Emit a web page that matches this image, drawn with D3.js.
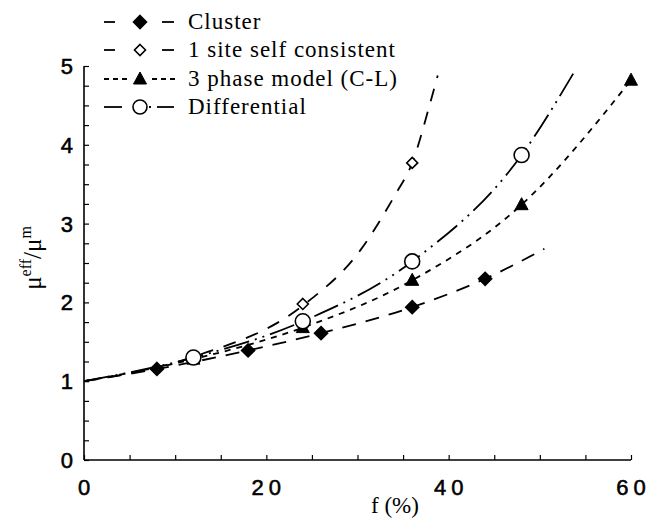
<!DOCTYPE html>
<html><head><meta charset="utf-8">
<script src="https://cdn.jsdelivr.net/npm/d3@7"></script>
<style>
body{margin:0;background:#fff;}
svg{display:block;}
</style></head>
<body>
<script>
// ---- data ----
const seriesNames = ["Cluster", "1 site self consistent", "3 phase model (C-L)", "Differential"];
const clusterF = [8, 18, 26, 36, 44];
const clusterV = [1.155, 1.39, 1.61, 1.94, 2.30];
const siteF = [12, 24, 36];
const siteV = [1.31, 1.98, 3.77];
const phaseF = [12, 24, 36, 48, 60];
const phaseV = [1.28, 1.68, 2.28, 3.24, 4.82];
const diffF = [12, 24, 36, 48];
const diffV = [1.30, 1.76, 2.52, 3.87];
// fitted curves
const clusterCurveF = [0, 8, 18, 26, 36, 44, 50.5];
const clusterCurveV = [1.0, 1.155, 1.39, 1.61, 1.94, 2.30, 2.68];
const siteCurveF = [0, 12, 24, 30.3, 34.1, 36, 37.9, 38.8];
const siteCurveV = [1.0, 1.31, 1.96, 2.66, 3.36, 3.77, 4.5, 4.88];
const phaseCurveF = [0, 12, 24, 36, 48, 60];
const phaseCurveV = [1.0, 1.28, 1.68, 2.28, 3.24, 4.82];
const diffCurveF = [0, 12, 24, 36, 48, 53.7];
const diffCurveV = [1.0, 1.30, 1.76, 2.52, 3.87, 4.91];
const xTickLabels = ["0", "20", "40", "60"];
const yTickLabels = [0, 1, 2, 3, 4, 5];

const W = 650, H = 531;
const svg = d3.select("body").append("svg").attr("width", W).attr("height", H);
const x = d3.scaleLinear().domain([0, 60]).range([84, 631]);
const y = d3.scaleLinear().domain([0, 5]).range([460, 66]);

const g = svg.append("g");
// axes
const xAxis = d3.axisBottom(x).tickValues(d3.range(0, 61, 5)).tickSize(-5).tickFormat("");
const yAxis = d3.axisLeft(y).tickValues(d3.range(0, 5.01, 0.25)).tickSize(-5).tickFormat("");
const gx = g.append("g").attr("transform", `translate(0,${y(0)})`).call(xAxis);
const gy = g.append("g").attr("transform", `translate(${x(0)},0)`).call(yAxis);
[gx, gy].forEach(a => {
  a.select(".domain").attr("stroke", "#000").attr("stroke-width", 1.6);
  a.selectAll(".tick line").attr("stroke", "#000").attr("stroke-width", 1.2);
});
gx.select(".domain").attr("d", `M${x(0)},0H${x(60)}`);
gy.select(".domain").attr("d", `M0,${y(5)}V${y(0)}`);

// tick labels
const tickFont = "'Liberation Sans', Arial, Helvetica, sans-serif";
const xt = g.selectAll("text.xt").data(xTickLabels).join("text")
  .attr("x", d => x(+d)).attr("y", 495)
  .attr("text-anchor", "middle")
  .style("font-family", tickFont)
  .style("font-size", "22px")
  .attr("stroke", "#000").attr("stroke-width", 0.55);
xt.each(function(d) {
  const t = d3.select(this);
  d.split("").forEach((ch, k) => {
    t.append("tspan").attr("dx", k === 0 ? 0 : 5).text(ch);
  });
});
g.selectAll("text.yt").data(yTickLabels).join("text")
  .attr("x", 73).attr("y", d => y(d) + 8)
  .attr("text-anchor", "end")
  .style("font-family", tickFont)
  .style("font-size", "22px")
  .attr("stroke", "#000").attr("stroke-width", 0.55)
  .text(d => d);

// axis titles
const serif = "'Liberation Serif', 'Times New Roman', serif";
svg.append("text").attr("x", 395).attr("y", 513).attr("text-anchor", "middle")
  .style("font-family", serif).style("font-size", "23px")
  .text("f (%)");
const yl = svg.append("text").attr("transform", "translate(41,258) rotate(-90)")
  .attr("text-anchor", "middle")
  .style("font-family", serif).style("font-size", "25px");
yl.append("tspan").text("μ");
yl.append("tspan").attr("dy", -10).style("font-size", "16px").text("eff");
yl.append("tspan").attr("dy", 10).text("/μ");
yl.append("tspan").attr("dy", -10).style("font-size", "16px").text("m");

// curves
const line = d3.line().x(d => x(d[0])).y(d => y(d[1])).curve(d3.curveMonotoneX);
const styles = [
  {cf: clusterCurveF, cv: clusterCurveV, dash: "14,10"},
  {cf: siteCurveF, cv: siteCurveV, dash: "13,11"},
  {cf: phaseCurveF, cv: phaseCurveV, dash: "6,6"},
  {cf: diffCurveF, cv: diffCurveV, dash: "26,6,2,6,2,6"}
];
styles.forEach(s => {
  g.append("path").datum(s.cf.map((f, i) => [f, s.cv[i]]))
    .attr("d", line).attr("fill", "none").attr("stroke", "#000")
    .attr("stroke-width", 1.8).attr("stroke-dasharray", s.dash);
});

// markers
function sq(cx, cy, r, filled, sel) {
  return sel.append("path").attr("d", `M${cx},${cy - r}L${cx + r},${cy}L${cx},${cy + r}L${cx - r},${cy}Z`)
    .attr("fill", filled ? "#000" : "#fff").attr("stroke", "#000").attr("stroke-width", 1.6);
}
function tri(cx, cy, sel) {
  return sel.append("path").attr("d", `M${cx},${cy - 7}L${cx + 6.5},${cy + 5}L${cx - 6.5},${cy + 5}Z`)
    .attr("fill", "#000").attr("stroke", "#000").attr("stroke-width", 1);
}
clusterF.forEach((f, i) => sq(x(f), y(clusterV[i]), 6.5, true, g));
siteF.forEach((f, i) => sq(x(f), y(siteV[i]), 5.5, false, g));
phaseF.forEach((f, i) => tri(x(f), y(phaseV[i]), g));
g.selectAll("circle.d").data(diffF.map((f, i) => [f, diffV[i]])).join("circle")
  .attr("cx", d => x(d[0])).attr("cy", d => y(d[1])).attr("r", 7.5)
  .attr("fill", "#fff").attr("stroke", "#000").attr("stroke-width", 1.6);

// legend
const legY = [22, 50, 79, 107];
const leg = svg.append("g");
seriesNames.forEach((name, i) => {
  const yy = legY[i];
  const ln = (a, b, dash) => leg.append("line").attr("x1", a).attr("x2", b).attr("y1", yy).attr("y2", yy)
    .attr("stroke", "#000").attr("stroke-width", 1.8).attr("stroke-dasharray", dash || null);
  if (i < 2) {
    ln(104, 115); ln(162, 174);
    if (i === 0) sq(140, yy, 6.5, true, leg); else sq(140, yy, 5.5, false, leg);
  } else if (i === 2) {
    ln(104, 130, "5,4"); ln(152, 176, "5,4");
    tri(140, yy, leg);
  } else {
    ln(104, 122); ln(149, 151); ln(157, 174);
    leg.append("circle").attr("cx", 140).attr("cy", yy).attr("r", 7).attr("fill", "#fff").attr("stroke", "#000").attr("stroke-width", 1.6);
  }
  leg.append("text").attr("x", 188).attr("y", yy + 7)
    .style("font-family", serif).style("font-size", "23px").style("letter-spacing", "1px")
    .text(name);
});
</script>
</body></html>
